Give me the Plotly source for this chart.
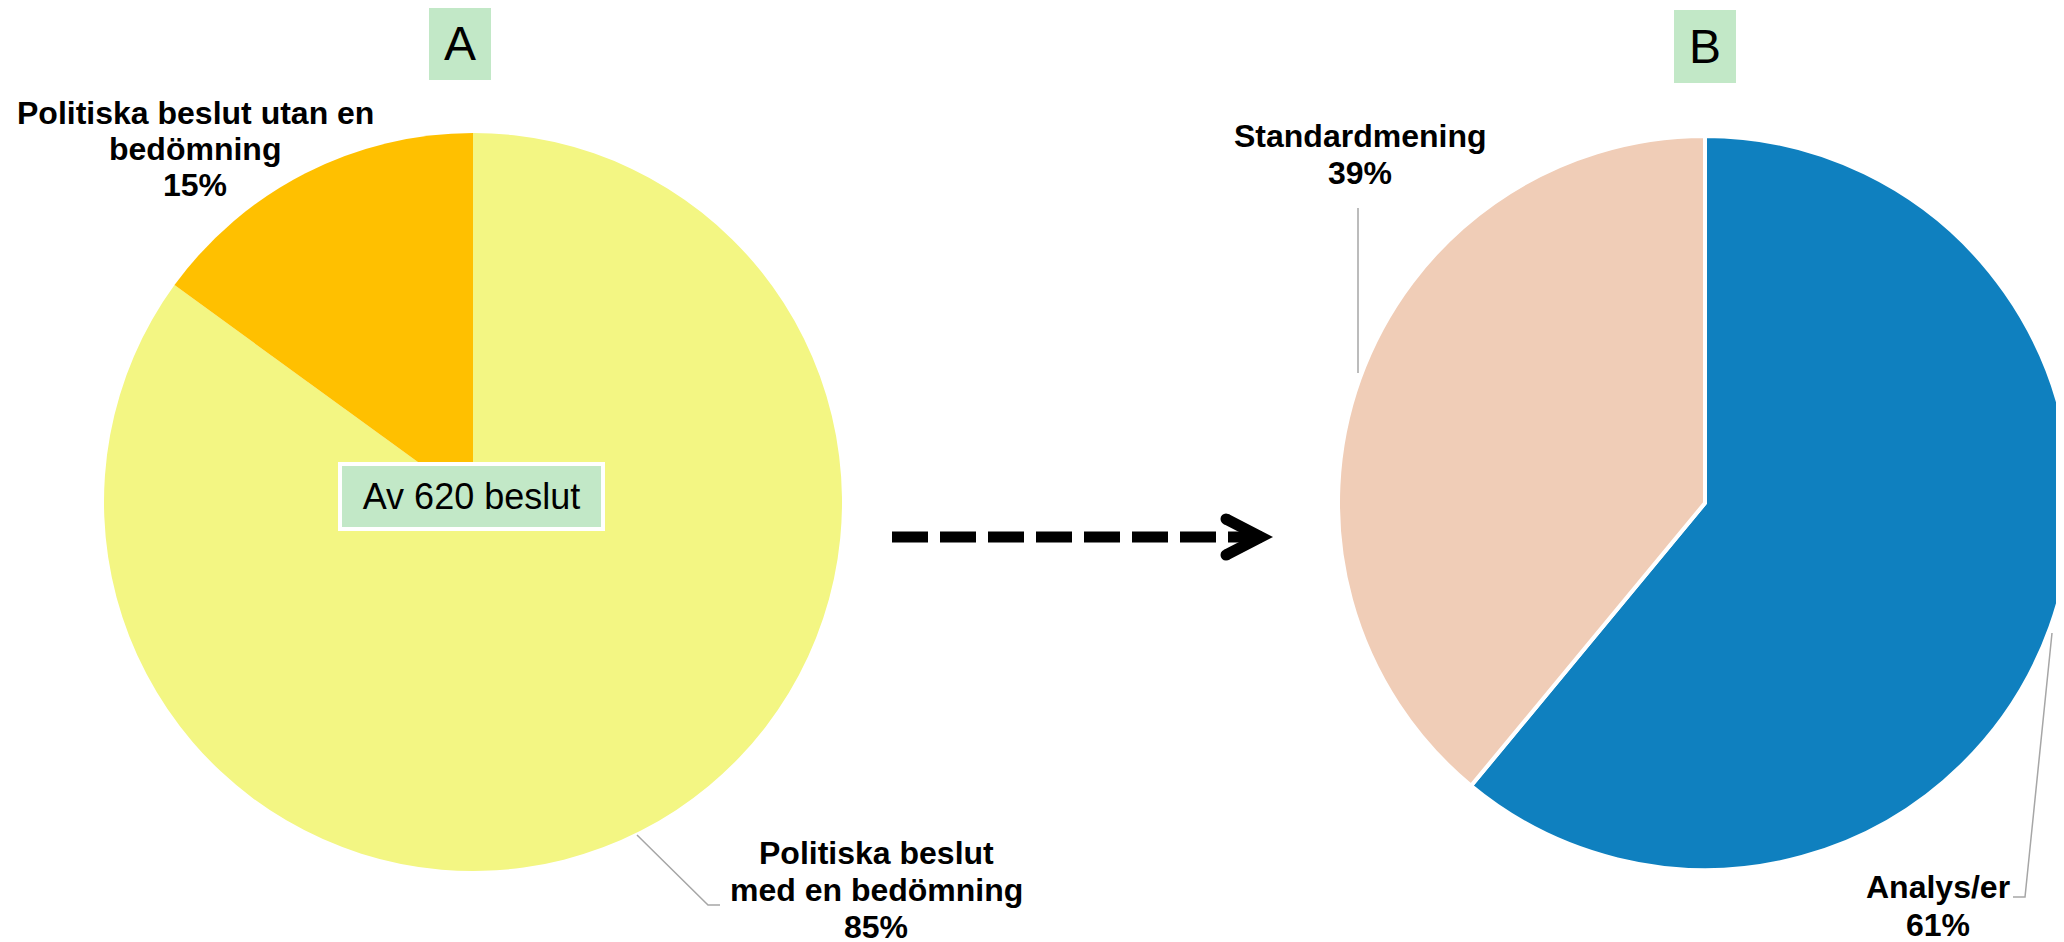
import plotly.graph_objects as go

# ---------------- data ----------------
labels_a = ["Politiska beslut med en bedömning", "Politiska beslut utan en bedömning"]
values_a = [85, 15]
colors_a = ["#F3F683", "#FFC000"]
lines_a = [["Politiska beslut", "med en bedömning"], ["Politiska beslut utan en", "bedömning"]]

labels_b = ["Analys/er", "Standardmening"]
values_b = [61, 39]
colors_b = ["#0F80BF", "#F0CDB7"]
lines_b = [["Analys/er"], ["Standardmening"]]

panel_titles = ["A", "B"]
center_note = "Av 620 beslut"

W, H = 2064, 942
OFF = 8  # page body margin: the figure is drawn 8px right/down of the window corner
FONT = "Liberation Sans, Arial, Helvetica, sans-serif"
GREEN = "#C2E8C7"
GREY = "#A6A6A6"


def pct(vals, i):
    return f"{round(100 * vals[i] / sum(vals))}%"


def dom(cx, cy, r):
    x0, x1 = (cx - r - OFF) / W, min(1.0, (cx + r - OFF) / W)
    y0, y1 = (H - (cy + r - OFF)) / H, (H - (cy - r - OFF)) / H
    return dict(x=[max(0.0, x0), x1], y=[max(0.0, y0), min(1.0, y1)])


fig = go.Figure()

# pie A: window centre (473, 502), r 369
fig.add_trace(go.Pie(
    labels=labels_a, values=values_a, sort=False, direction="clockwise", rotation=0,
    marker=dict(colors=colors_a, line=dict(width=0)),
    textinfo="none", hoverinfo="label+percent", showlegend=False,
    domain=dom(473, 502, 369),
))
# pie B: window centre (1705, 503), r 367
fig.add_trace(go.Pie(
    labels=labels_b, values=values_b, sort=False, direction="clockwise", rotation=0,
    marker=dict(colors=colors_b, line=dict(width=4, color="white")),
    textinfo="none", hoverinfo="label+percent", showlegend=False,
    domain=dom(1705, 503, 367),
))

fig.update_layout(
    width=W, height=H, margin=dict(l=0, r=0, t=0, b=0),
    paper_bgcolor="white", plot_bgcolor="white",
    xaxis=dict(range=[OFF, W + OFF], visible=False, fixedrange=True),
    yaxis=dict(range=[H + OFF, OFF], visible=False, fixedrange=True),
    showlegend=False,
)
# invisible trace to hold the pixel axes
fig.add_trace(go.Scatter(x=[OFF, W], y=[OFF, H], mode="markers", marker=dict(opacity=0),
                         hoverinfo="skip", showlegend=False))

ann = []


def label(x, y, text, size=32, bold=True):
    ann.append(dict(x=x, y=y, xref="x", yref="y", text=f"<b>{text}</b>" if bold else text,
                    showarrow=False, xanchor="center", yanchor="middle",
                    font=dict(family=FONT, size=size, color="black")))


# labels pie A
for k, t in enumerate(lines_a[1] + [pct(values_a, 1)]):
    label(195, 112.5 + 36.3 * k, t)
for k, t in enumerate(lines_a[0] + [pct(values_a, 0)]):
    label(876, 852.5 + 37.2 * k, t)
# labels pie B
for k, t in enumerate(lines_b[1] + [pct(values_b, 1)]):
    label(1360, 136 + 37 * k, t)
for k, t in enumerate(lines_b[0] + [pct(values_b, 0)]):
    label(1937.5, 887 + 38 * k, t)

# panel title boxes
for t, cx, cy in [(panel_titles[0], 460, 43.5), (panel_titles[1], 1704.5, 46.5)]:
    ann.append(dict(x=cx, y=cy, xref="x", yref="y", text=t, showarrow=False,
                    xanchor="center", yanchor="middle", width=62, height=73,
                    bgcolor=GREEN, borderpad=0, borderwidth=0,
                    font=dict(family=FONT, size=48, color="black")))

# centre note box
ann.append(dict(x=471.5, y=496.5, xref="x", yref="y", text=center_note, showarrow=False,
                xanchor="center", yanchor="middle", width=259, height=61,
                bgcolor=GREEN, bordercolor="white", borderwidth=4, borderpad=0,
                font=dict(family=FONT, size=36, color="black")))

fig.update_layout(annotations=ann)

shapes = []
# leader lines
for path in ["M 637 835 L 708 905 L 720 905",
             "M 1358 208 L 1358 373",
             "M 2052 633 L 2025 897 L 2013 897"]:
    shapes.append(dict(type="path", path=path, xref="x", yref="y",
                       line=dict(color=GREY, width=1.5), layer="above"))
# dashed arrow
shapes.append(dict(type="line", x0=892, y0=537, x1=1262, y1=537, xref="x", yref="y",
                   line=dict(color="black", width=11, dash="36px,12px"), layer="above"))
shapes.append(dict(type="path", path="M 1226 519 L 1261 537 L 1226 555", xref="x", yref="y",
                   line=dict(color="black", width=11), layer="above"))
for cx, cy in [(1226, 519), (1226, 555)]:
    shapes.append(dict(type="circle", x0=cx - 5.5, x1=cx + 5.5, y0=cy - 5.5, y1=cy + 5.5,
                       xref="x", yref="y", fillcolor="black", line=dict(width=0), layer="above"))
fig.update_layout(shapes=shapes)

fig.write_html("out.html")
